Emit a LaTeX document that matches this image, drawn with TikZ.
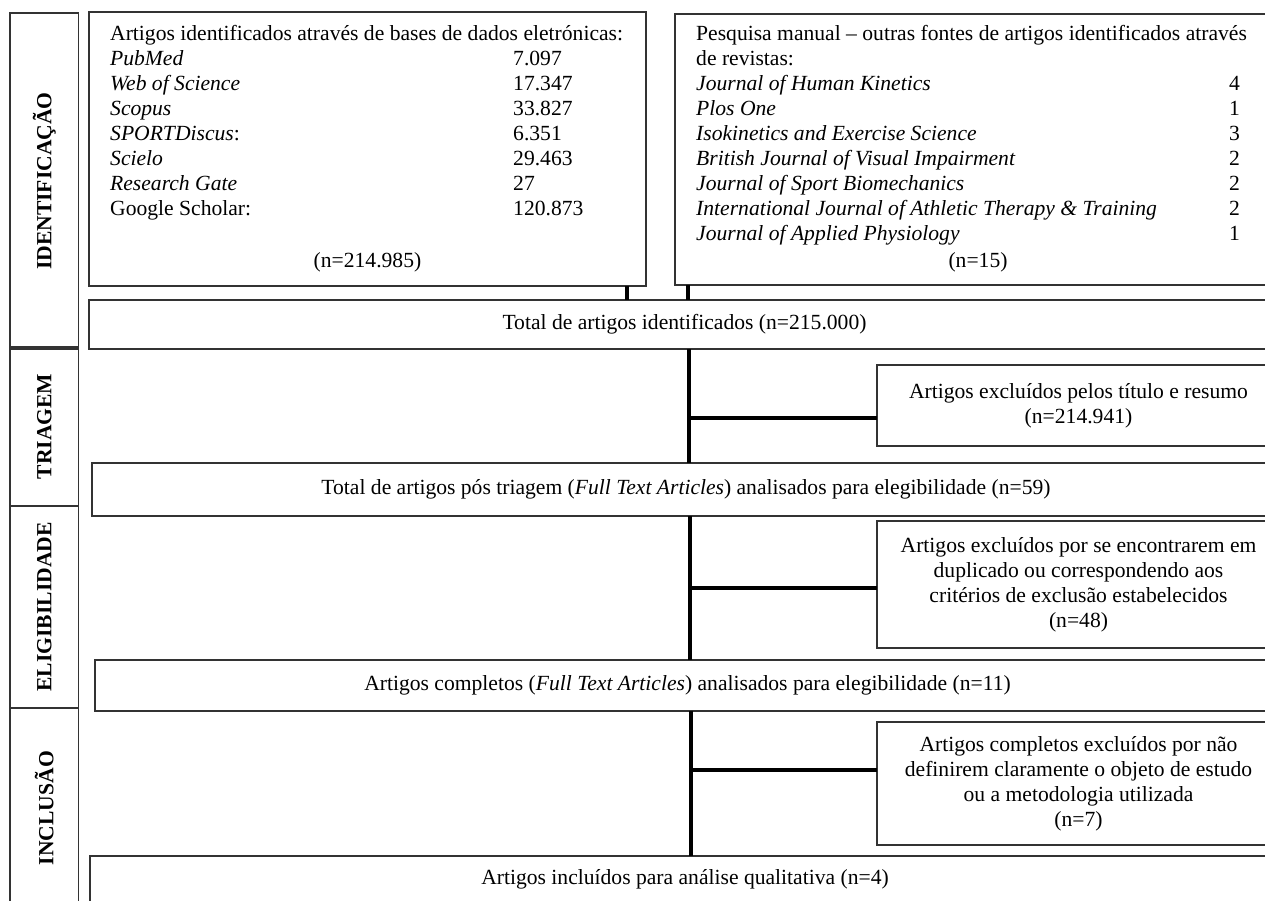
\documentclass[tikz,border=0pt]{standalone}
\usepackage{fontspec}
\setmainfont{Liberation Serif}
\usepackage{array}
\definecolor{boxgray}{gray}{0.2}
\begin{document}
\begin{tikzpicture}[x=1pt,y=-1pt,
  basefont/.style={font=\fontsize{21.6}{25}\selectfont, text=black},
  boxframe/.style={draw=boxgray, line width=1.2pt, inner sep=0pt, outer sep=0pt, anchor=north west, basefont},
  centered/.style={boxframe, align=center},
  conn/.style={line width=3.4pt, black},
  stagelabel/.style={font=\fontsize{21.6}{25}\selectfont\bfseries, rotate=90, inner sep=0pt}
]
\useasboundingbox (0,0) rectangle (1265,901);
\clip (0,0) rectangle (1265,901);

% stage label column
\node[boxframe, minimum width=68.5pt, minimum height=336pt] (lid) at (10,13) {};
\node[boxframe, minimum width=68.5pt, minimum height=159pt] (ltr) at (10,347) {};
\node[boxframe, minimum width=68.5pt, minimum height=202pt] (lel) at (10,506) {};
\node[boxframe, minimum width=68.5pt, minimum height=200pt] (lin) at (10,708) {};
\node[stagelabel] (tid) at (lid.center) {IDENTIFICAÇÃO};
\node[stagelabel] (ttr) at (ltr.center) {TRIAGEM};
\node[stagelabel] (tel) at (lel.center) {ELIGIBILIDADE};
\node[stagelabel] (tin) at (lin.center) {INCLUSÃO};

% identification boxes
\node[boxframe, minimum width=557pt, minimum height=274pt] (boxA) at (89,12) {};
\node[boxframe, minimum width=605pt, minimum height=271pt] (boxB) at (675,14) {};

\node[basefont, anchor=base west, inner sep=0pt] (txtA) at (110,41) {%
\begin{tabular}[t]{@{}p{403pt}@{}l@{}}
\multicolumn{2}{@{}l@{}}{Artigos identificados através de bases de dados eletrónicas:}\\
\textit{PubMed} & 7.097\\
\textit{Web of Science} & 17.347\\
\textit{Scopus} & 33.827\\
\textit{SPORTDiscus}: & 6.351\\
\textit{Scielo} & 29.463\\
\textit{Research Gate} & 27\\
Google Scholar: & 120.873
\end{tabular}};
\node[basefont] (nA) at (367.5,262) {(n=214.985)};

\node[basefont, anchor=base west, inner sep=0pt] (txtB) at (696,41) {%
\begin{tabular}[t]{@{}p{526pt}@{}c@{}}
\multicolumn{2}{@{}l@{}}{Pesquisa manual – outras fontes de artigos identificados através}\\
\multicolumn{2}{@{}l@{}}{de revistas:}\\
\textit{Journal of Human Kinetics} & 4\\
\textit{Plos One} & 1\\
\textit{Isokinetics and Exercise Science} & 3\\
\textit{British Journal of Visual Impairment} & 2\\
\textit{Journal of Sport Biomechanics} & 2\\
\textit{International Journal of Athletic Therapy \& Training} & 2\\
\textit{Journal of Applied Physiology} & 1
\end{tabular}};
\node[basefont] (nB) at (978,262) {(n=15)};

% main flow boxes
\node[centered, minimum width=1191pt, minimum height=49pt] (total) at (89,300) {Total de artigos identificados (n=215.000)};
\node[centered, minimum width=403pt, minimum height=81pt] (excl1) at (877,365) {Artigos excluídos pelos título e resumo\\(n=214.941)};
\node[centered, minimum width=1188pt, minimum height=53pt] (pos) at (92,463) {Total de artigos pós triagem (\textit{Full Text Articles}) analisados para elegibilidade (n=59)};
\node[centered, minimum width=403pt, minimum height=127pt] (excl2) at (877,521) {Artigos excluídos por se encontrarem em\\duplicado ou correspondendo aos\\critérios de exclusão estabelecidos\\(n=48)};
\node[centered, minimum width=1185pt, minimum height=51pt] (compl) at (95,660) {Artigos completos (\textit{Full Text Articles}) analisados para elegibilidade (n=11)};
\node[centered, minimum width=403pt, minimum height=123pt] (excl3) at (877,722) {Artigos completos excluídos por não\\definirem claramente o objeto de estudo\\ou a metodologia utilizada\\(n=7)};
\node[centered, minimum width=1190pt, minimum height=47pt] (incl) at (90,856) {Artigos incluídos para análise qualitativa (n=4)};

% connector reference coordinates
\coordinate (xa) at (627,0);
\coordinate (xb) at (688,0);
\coordinate (xv1) at (689,0);
\coordinate (xv2) at (690,0);
\coordinate (xv3) at (691,0);
\coordinate (h1) at (0,418);
\coordinate (h2) at (0,588);
\coordinate (h3) at (0,770);

\draw[conn] (boxA.south -| xa) -- (total.north -| xa);
\draw[conn] (boxB.south -| xb) -- (total.north -| xb);
\draw[conn] (total.south -| xv1) -- (pos.north -| xv1);
\draw[conn] (xv1 |- h1) -- (excl1.west |- h1);
\draw[conn] (pos.south -| xv2) -- (compl.north -| xv2);
\draw[conn] (xv2 |- h2) -- (excl2.west |- h2);
\draw[conn] (compl.south -| xv3) -- (incl.north -| xv3);
\draw[conn] (xv3 |- h3) -- (excl3.west |- h3);
\end{tikzpicture}
\end{document}
